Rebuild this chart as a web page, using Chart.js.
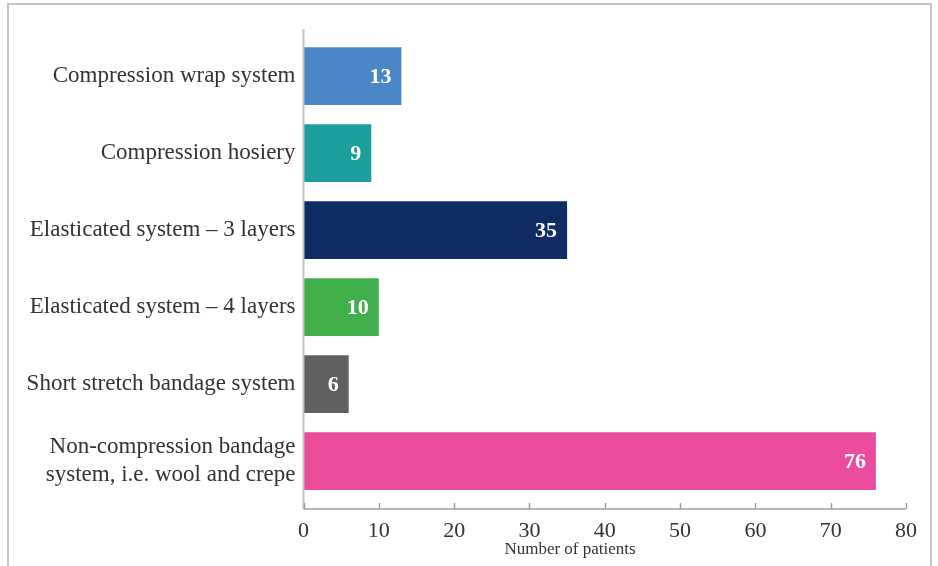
<!DOCTYPE html>
<html>
<head>
<meta charset="utf-8">
<script src="https://cdn.jsdelivr.net/npm/chart.js@4.4.0/dist/chart.umd.min.js"></script>
<style>
  html, body { margin: 0; padding: 0; background: #fff; }
  .wrap { position: relative; width: 938px; height: 566px; overflow: hidden; }
  .frame {
    position: absolute; left: 7px; top: 3px; width: 925px; height: 620px;
    border: 2px solid #c4c4c4; box-sizing: border-box;
  }
  canvas { position: absolute; left: 0; top: 0; }
</style>
</head>
<body>
<div class="wrap">
  <div class="frame"></div>
  <canvas id="chart" width="938" height="566"></canvas>
</div>
<script>
  const categories = [
    "Compression wrap system",
    "Compression hosiery",
    "Elasticated system \u2013 3 layers",
    "Elasticated system \u2013 4 layers",
    "Short stretch bandage system",
    ["Non-compression bandage", "system, i.e. wool and crepe"],
  ];
  const patients = [13, 9, 35, 10, 6, 76];
  const barColors = ["#4b87c6", "#1b9e9c", "#0f2d62", "#41b04b", "#606060", "#eb4c9c"];
  const xTicks = [0, 10, 20, 30, 40, 50, 60, 70, 80];
  const xTitle = "Number of patients";

  const serif = "'Liberation Serif', 'DejaVu Serif', serif";

  // axis lines, ticks, value labels and the axis title
  const extras = {
    id: "extras",
    afterDraw(chart) {
      const ctx = chart.ctx;
      const area = chart.chartArea;
      const x = chart.scales.x;
      const axisY = area.bottom + 9.5;
      ctx.save();

      // y axis line
      ctx.strokeStyle = "#c2c2c2";
      ctx.lineWidth = 2;
      ctx.beginPath();
      ctx.moveTo(area.left, area.top - 8.5);
      ctx.lineTo(area.left, axisY);
      ctx.stroke();

      // x axis line + ticks
      ctx.strokeStyle = "#9e9e9e";
      ctx.lineWidth = 1.5;
      ctx.beginPath();
      ctx.moveTo(area.left, axisY);
      ctx.lineTo(x.getPixelForValue(80), axisY);
      xTicks.forEach((t) => {
        const px = Math.round(x.getPixelForValue(t)) + 0.5;
        ctx.moveTo(px, axisY);
        ctx.lineTo(px, axisY - 6);
      });
      ctx.stroke();

      // value labels
      const meta = chart.getDatasetMeta(0);
      ctx.fillStyle = "#ffffff";
      ctx.font = "bold 22px " + serif;
      ctx.textAlign = "right";
      ctx.textBaseline = "middle";
      meta.data.forEach((bar, i) => {
        ctx.fillText(String(patients[i]), bar.x - 10, bar.y + 1);
      });

      // axis title
      ctx.fillStyle = "#333333";
      ctx.font = "17px " + serif;
      ctx.textAlign = "center";
      ctx.fillText(xTitle, 570, 550);
      ctx.restore();
    },
  };

  new Chart(document.getElementById("chart"), {
    type: "bar",
    data: {
      labels: categories,
      datasets: [
        {
          data: patients,
          backgroundColor: barColors,
          borderWidth: 0,
          categoryPercentage: 1,
          barPercentage: 0.75,
        },
      ],
    },
    options: {
      indexAxis: "y",
      responsive: false,
      animation: false,
      layout: { padding: { top: 37.5, right: 32, left: 0, bottom: 0 } },
      scales: {
        x: {
          min: 0,
          max: 80,
          afterBuildTicks: (s) => { s.ticks = xTicks.map((v) => ({ value: v })); },
          afterFit: (s) => { s.height = 66.5; },
          grid: { display: false },
          border: { display: false },
          ticks: {
            color: "#333333",
            font: { family: serif, size: 22 },
            padding: 11,
          },
        },
        y: {
          afterFit: (s) => { s.width = 303.5; },
          grid: { display: false },
          border: { display: false },
          ticks: {
            color: "#333333",
            font: { family: serif, size: 23, lineHeight: 1.22 },
            padding: 0,
          },
        },
      },
      plugins: {
        legend: { display: false },
        tooltip: { enabled: false },
      },
    },
    plugins: [extras],
  });
</script>
</body>
</html>
